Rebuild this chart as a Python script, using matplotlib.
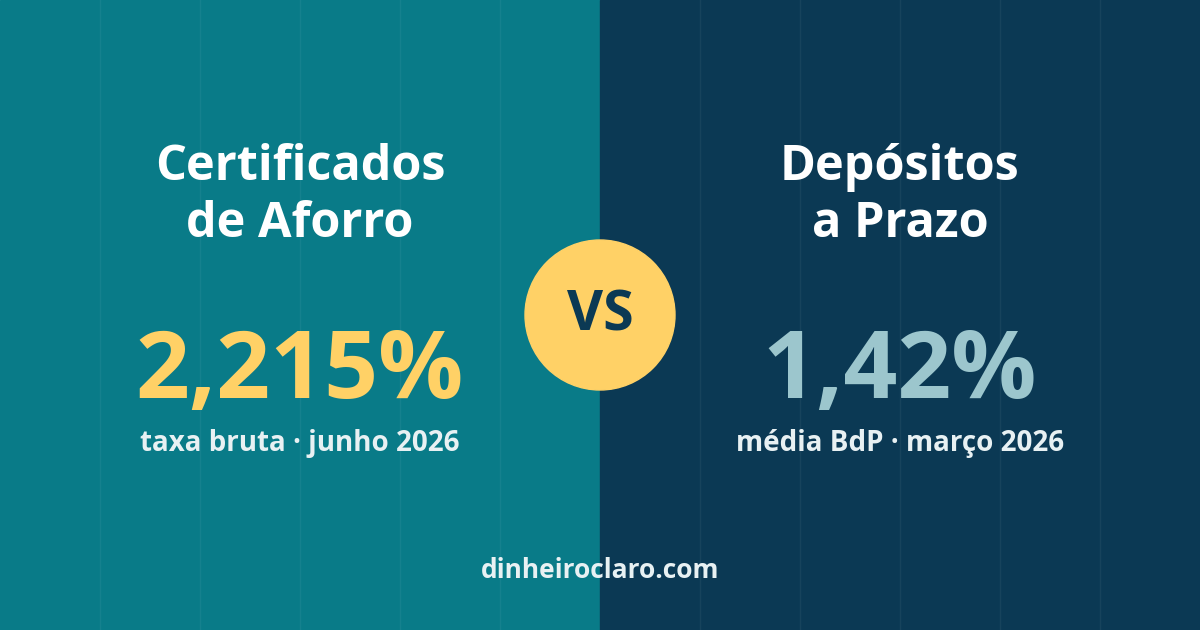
import matplotlib
matplotlib.use("Agg")
import matplotlib.pyplot as plt
from matplotlib.patches import Rectangle, Circle

titles = ["Certificados\nde Aforro", "Depósitos\na Prazo"]
values = ["2,215%", "1,42%"]
subtitles = ["taxa bruta · junho 2026", "média BdP · março 2026"]
footer = "dinheiroclaro.com"

plt.rcParams['font.family'] = ['Open Sans', 'DejaVu Sans']
fig = plt.figure(figsize=(12, 6.3), dpi=100)
ax = fig.add_axes([0, 0, 1, 1])
ax.set_xlim(0, 1200); ax.set_ylim(630, 0); ax.axis('off')

ax.add_patch(Rectangle((0, 0), 600, 630, color='#097b88', zorder=0))
ax.add_patch(Rectangle((600, 0), 600, 630, color='#0b3954', zorder=0))
for x in range(100, 1200, 100):
    if x != 600:
        ax.plot([x, x], [0, 630], color='white', alpha=0.05, lw=1, zorder=1)

cx = [300, 900]
vcol = ['#ffd166', '#9cc6cd']
for i in range(2):
    ax.text(cx[i], 196, titles[i], ha='center', va='center', color='white',
            fontsize=35, fontweight='bold', linespacing=1.2)
    ax.text(cx[i], 373, values[i], ha='center', va='center', color=vcol[i],
            fontsize=68, fontweight='bold')
    ax.text(cx[i], 444, subtitles[i], ha='center', va='center', color='#e8f1f3',
            fontsize=20, fontweight='bold')

ax.add_patch(Circle((600, 315), 75, color='#ffd166', zorder=3))
ax.text(600, 316, "VS", ha='center', va='center', color='#0b3954',
        fontsize=40, fontweight='bold', zorder=4)
ax.text(600, 571, footer, ha='center', va='center', color='#e8f1f3',
        fontsize=19, fontweight='bold')
fig.savefig('out.png', dpi=100)
